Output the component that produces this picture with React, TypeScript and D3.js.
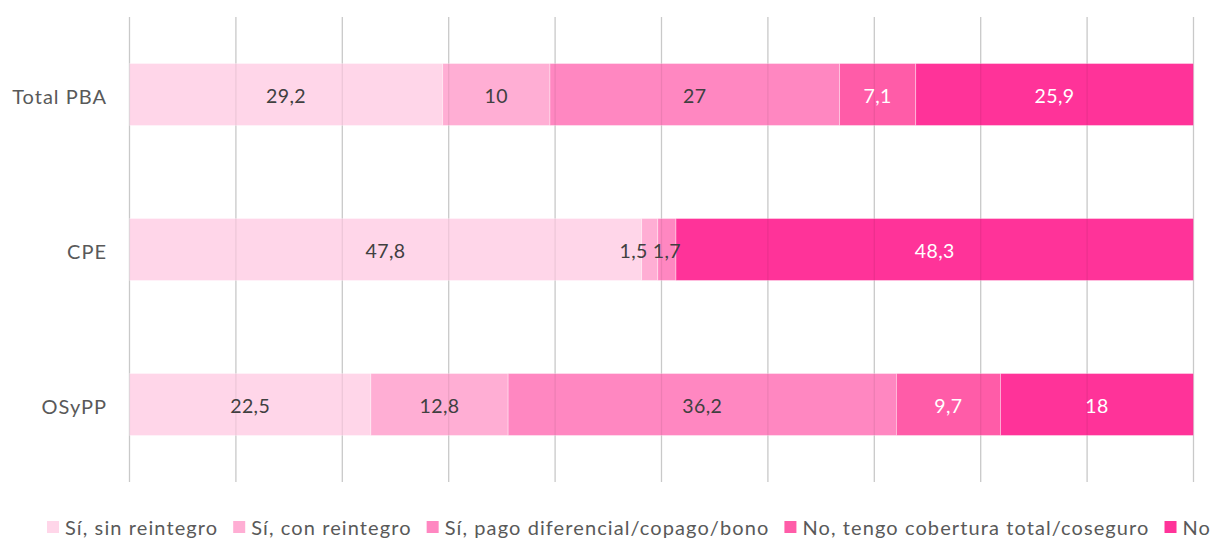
import React, { useEffect, useRef } from "react";
import * as d3 from "d3";

const categories = ["Total PBA", "CPE", "OSyPP"];
const seriesNames = [
  "Sí, sin reintegro",
  "Sí, con reintegro",
  "Sí, pago diferencial/copago/bono",
  "No, tengo cobertura total/coseguro",
  "No",
];
const sinReintegro = [29.2, 47.8, 22.5];
const conReintegro = [10, 1.5, 12.8];
const pagoDiferencial = [27, 1.7, 36.2];
const coberturaTotal = [7.1, 0, 9.7];
const noValues = [25.9, 48.3, 18];
const xTicks = [0, 10, 20, 30, 40, 50, 60, 70, 80, 90, 100];

const colors = ["#FFD6E9", "#FFAED4", "#FF87C1", "#FF5CA8", "#FF3399"];
const labelColors = ["#404040", "#404040", "#404040", "#FFFFFF", "#FFFFFF"];

const W = 1219;
const H = 539;
const FONT = "Lato, 'Open Sans', sans-serif";

export default function App() {
  const ref = useRef<SVGSVGElement>(null);

  useEffect(() => {
    const svg = d3.select(ref.current);
    svg.selectAll("*").remove();

    const series = [sinReintegro, conReintegro, pagoDiferencial, coberturaTotal, noValues];
    const left = 129.5;
    const right = 1193.5;
    const top = 17;
    const bottom = 482;

    const x = d3.scaleLinear().domain([0, 100]).range([left, right]);
    const y = d3.scaleBand().domain(categories).range([top, bottom]).paddingInner(0.6).paddingOuter(0.3);

    const grid = svg.append("g");
    grid
      .selectAll("line")
      .data(xTicks)
      .join("line")
      .attr("x1", (d) => x(d))
      .attr("x2", (d) => x(d))
      .attr("y1", top)
      .attr("y2", bottom)
      .attr("stroke", "#D9D9D9")
      .attr("stroke-width", 1.3);

    const rows = categories.map((c, i) => {
      const vals = series.map((s) => s[i]);
      const total = d3.sum(vals);
      let acc = 0;
      return vals.map((v, k) => {
        const x0 = (acc / total) * 100;
        acc += v;
        const x1 = (acc / total) * 100;
        return { cat: c, k, v, x0, x1 };
      });
    });

    const bars = svg.append("g");
    rows.forEach((segs) => {
      segs.forEach((s) => {
        if (s.v <= 0) return;
        bars
          .append("rect")
          .attr("x", x(s.x0))
          .attr("y", y(s.cat)!)
          .attr("width", x(s.x1) - x(s.x0))
          .attr("height", y.bandwidth())
          .attr("fill", colors[s.k])
          .attr("stroke", "rgba(255,255,255,0.45)")
          .attr("stroke-width", 0.8);
      });
    });

    svg
      .append("g")
      .selectAll("line")
      .data(xTicks)
      .join("line")
      .attr("x1", (d) => x(d))
      .attr("x2", (d) => x(d))
      .attr("y1", top)
      .attr("y2", bottom)
      .attr("stroke", "rgba(0,0,0,0.07)")
      .attr("stroke-width", 1.3);

    const lbl = svg.append("g").attr("font-family", FONT).attr("font-size", 19.5).attr("letter-spacing", 0.4);
    rows.forEach((segs) => {
      const vis = segs.filter((s) => s.v > 0);
      const items = vis.map((s) => {
        const t = lbl
          .append("text")
          .attr("text-anchor", "middle")
          .attr("dominant-baseline", "central")
          .attr("y", y(s.cat)! + y.bandwidth() / 2 + 1)
          .attr("x", x((s.x0 + s.x1) / 2))
          .attr("fill", labelColors[s.k])
          .text(String(s.v).replace(".", ","));
        const w = (t.node() as SVGTextElement).getComputedTextLength();
        return { t, cx: x((s.x0 + s.x1) / 2), w };
      });
      for (let i = items.length - 2; i >= 0; i--) {
        const a = items[i];
        const b = items[i + 1];
        const minGap = (a.w + b.w) / 2 + 5;
        if (b.cx - a.cx < minGap) {
          a.cx = b.cx - minGap;
          a.t.attr("x", a.cx);
        }
      }
    });

    svg
      .append("g")
      .selectAll("text")
      .data(categories)
      .join("text")
      .attr("x", 107)
      .attr("y", (d) => y(d)! + y.bandwidth() / 2 + 1)
      .attr("text-anchor", "end")
      .attr("dominant-baseline", "central")
      .attr("font-family", FONT)
      .attr("font-size", 20)
      .attr("letter-spacing", 1)
      .attr("fill", "#595959")
      .text((d) => d);

    const lg = svg.append("g").attr("font-family", FONT).attr("font-size", 20).attr("letter-spacing", 1.1);
    let lx = 47;
    const ly = 527;
    seriesNames.forEach((name, k) => {
      lg.append("rect").attr("x", lx).attr("y", ly - 6).attr("width", 12).attr("height", 12).attr("fill", colors[k]);
      const t = lg
        .append("text")
        .attr("x", lx + 18)
        .attr("y", ly)
        .attr("dominant-baseline", "central")
        .attr("fill", "#595959")
        .text(name);
      const w = (t.node() as SVGTextElement).getComputedTextLength();
      lx += 18 + w + 15;
    });
  }, []);

  return (
    <svg ref={ref} width={W} height={H} style={{ display: "block", position: "absolute", left: 0, top: 0 }} />
  );
}
